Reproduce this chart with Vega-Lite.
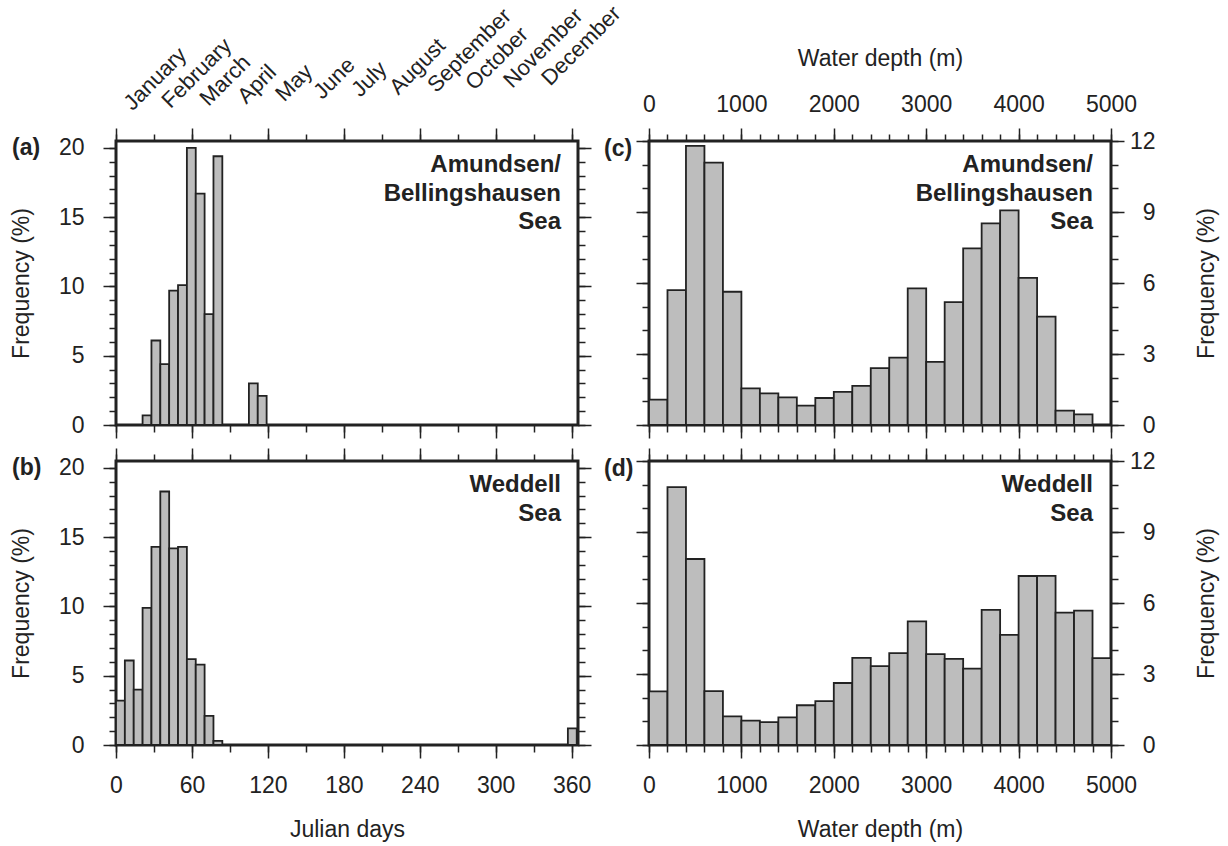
{
"$schema": "https://vega.github.io/schema/vega-lite/v6.json",
"padding": {"left": 8, "top": 0, "right": 5, "bottom": 5},
"background": "white",
"config": {
 "font": "Liberation Sans",
 "view": {"stroke": "#222", "strokeWidth": 3},
 "axis": {"domain": false, "grid": false, "tickColor": "#222", "tickWidth": 1.5, "labelFont": "Liberation Sans", "labelFontSize": 23, "labelColor": "#222", "titleFont": "Liberation Sans", "titleFontSize": 23, "titleFontWeight": "normal", "titleColor": "#222", "labelPadding": 14, "labelFlush": false, "labelOverlap": false, "titlePadding": 20},
 "axisLeft": {"labelPadding": 19, "titlePadding": 25},
 "axisBottom": {"labelPadding": 16, "titlePadding": 21},
 "axisTop": {"labelPadding": 12, "titlePadding": 23},
 "axisRight": {"labelPadding": 31, "labelAlign": "right", "titlePadding": 40, "titleAngle": 270, "titleBaseline": "top"}
},
"datasets": {
 "julA": [
  {"start": 21, "end": 28, "freq": 0.7}, {"start": 28, "end": 35, "freq": 6.1}, {"start": 35, "end": 42, "freq": 4.4},
  {"start": 42, "end": 49, "freq": 9.7}, {"start": 49, "end": 56, "freq": 10.1}, {"start": 56, "end": 63, "freq": 20.0},
  {"start": 63, "end": 70, "freq": 16.7}, {"start": 70, "end": 77, "freq": 8.0}, {"start": 77, "end": 84, "freq": 19.4},
  {"start": 105, "end": 112, "freq": 3.0}, {"start": 112, "end": 119, "freq": 2.1}
 ],
 "julB": [
  {"start": 0, "end": 7, "freq": 3.2}, {"start": 7, "end": 14, "freq": 6.1}, {"start": 14, "end": 21, "freq": 4.0},
  {"start": 21, "end": 28, "freq": 9.9}, {"start": 28, "end": 35, "freq": 14.3}, {"start": 35, "end": 42, "freq": 18.3},
  {"start": 42, "end": 49, "freq": 14.2}, {"start": 49, "end": 56, "freq": 14.3}, {"start": 56, "end": 63, "freq": 6.2},
  {"start": 63, "end": 70, "freq": 5.8}, {"start": 70, "end": 77, "freq": 2.1}, {"start": 77, "end": 84, "freq": 0.3},
  {"start": 357, "end": 364, "freq": 1.2}
 ],
 "depC": [
  {"start": 0, "end": 200, "freq": 1.07}, {"start": 200, "end": 400, "freq": 5.70}, {"start": 400, "end": 600, "freq": 11.79},
  {"start": 600, "end": 800, "freq": 11.09}, {"start": 800, "end": 1000, "freq": 5.63}, {"start": 1000, "end": 1200, "freq": 1.55},
  {"start": 1200, "end": 1400, "freq": 1.34}, {"start": 1400, "end": 1600, "freq": 1.17}, {"start": 1600, "end": 1800, "freq": 0.82},
  {"start": 1800, "end": 2000, "freq": 1.14}, {"start": 2000, "end": 2200, "freq": 1.40}, {"start": 2200, "end": 2400, "freq": 1.65},
  {"start": 2400, "end": 2600, "freq": 2.40}, {"start": 2600, "end": 2800, "freq": 2.85}, {"start": 2800, "end": 3000, "freq": 5.77},
  {"start": 3000, "end": 3200, "freq": 2.67}, {"start": 3200, "end": 3400, "freq": 5.19}, {"start": 3400, "end": 3600, "freq": 7.46},
  {"start": 3600, "end": 3800, "freq": 8.52}, {"start": 3800, "end": 4000, "freq": 9.07}, {"start": 4000, "end": 4200, "freq": 6.22},
  {"start": 4200, "end": 4400, "freq": 4.58}, {"start": 4400, "end": 4600, "freq": 0.61}, {"start": 4600, "end": 4800, "freq": 0.45}
 ],
 "depD": [
  {"start": 0, "end": 200, "freq": 2.27}, {"start": 200, "end": 400, "freq": 10.90}, {"start": 400, "end": 600, "freq": 7.86},
  {"start": 600, "end": 800, "freq": 2.28}, {"start": 800, "end": 1000, "freq": 1.21}, {"start": 1000, "end": 1200, "freq": 1.03},
  {"start": 1200, "end": 1400, "freq": 0.97}, {"start": 1400, "end": 1600, "freq": 1.17}, {"start": 1600, "end": 1800, "freq": 1.68},
  {"start": 1800, "end": 2000, "freq": 1.85}, {"start": 2000, "end": 2200, "freq": 2.62}, {"start": 2200, "end": 2400, "freq": 3.68},
  {"start": 2400, "end": 2600, "freq": 3.33}, {"start": 2600, "end": 2800, "freq": 3.88}, {"start": 2800, "end": 3000, "freq": 5.22},
  {"start": 3000, "end": 3200, "freq": 3.84}, {"start": 3200, "end": 3400, "freq": 3.64}, {"start": 3400, "end": 3600, "freq": 3.23},
  {"start": 3600, "end": 3800, "freq": 5.71}, {"start": 3800, "end": 4000, "freq": 4.65}, {"start": 4000, "end": 4200, "freq": 7.14},
  {"start": 4200, "end": 4400, "freq": 7.15}, {"start": 4400, "end": 4600, "freq": 5.59}, {"start": 4600, "end": 4800, "freq": 5.68},
  {"start": 4800, "end": 5000, "freq": 3.67}
 ]
},
"columns": 2,
"bounds": "flush",
"spacing": {"row": 36, "column": 71},
"concat": [
 {
  "width": 462, "height": 284,
  "data": {"name": "julA"},
  "layer": [
   {"mark": {"type": "bar", "fill": "#bdbdbd", "stroke": "#222", "strokeWidth": 1.8},
    "encoding": {
     "x": {"field": "start", "type": "quantitative", "scale": {"domain": [0, 365], "nice": false}, "axis": {"orient": "bottom", "values": [0, 60, 120, 180, 240, 300, 360], "labels": false, "tickSize": 13, "title": null}},
     "x2": {"field": "end"},
     "y": {"field": "freq", "type": "quantitative", "scale": {"domain": [0, 20.5], "nice": false}, "axis": {"orient": "left", "values": [0, 5, 10, 15, 20], "tickSize": 13, "title": "Frequency (%)"}},
     "y2": {"datum": 0}
    }},
   {"mark": {"type": "point", "opacity": 0},
    "encoding": {
     "x": {"field": "start", "type": "quantitative", "scale": {"domain": [0, 365], "nice": false}, "axis": {"orient": "bottom", "values": [0, 30, 60, 90, 120, 150, 180, 210, 240, 270, 300, 330, 360], "labels": false, "tickSize": 7, "title": null}},
     "y": {"field": "freq", "type": "quantitative", "scale": {"domain": [0, 20.5], "nice": false}, "axis": {"orient": "left", "values": [0, 1, 2, 3, 4, 5, 6, 7, 8, 9, 10, 11, 12, 13, 14, 15, 16, 17, 18, 19, 20], "labels": false, "tickSize": 7, "title": null}}
    }},
   {"mark": {"type": "point", "opacity": 0},
    "encoding": {
     "x": {"field": "start", "type": "quantitative", "scale": {"domain": [0, 365], "nice": false}, "axis": {"orient": "top", "values": [0, 60, 120, 180, 240, 300, 360], "labels": false, "tickSize": 13, "title": null}},
     "y": {"field": "freq", "type": "quantitative", "scale": {"domain": [0, 20.5], "nice": false}, "axis": {"orient": "right", "values": [0, 5, 10, 15, 20], "labels": false, "tickSize": 13, "title": null}}
    }},
   {"mark": {"type": "point", "opacity": 0},
    "encoding": {
     "x": {"field": "start", "type": "quantitative", "scale": {"domain": [0, 365], "nice": false}, "axis": {"orient": "top", "values": [0, 30, 60, 90, 120, 150, 180, 210, 240, 270, 300, 330, 360], "labels": false, "tickSize": 7, "title": null}},
     "y": {"field": "freq", "type": "quantitative", "scale": {"domain": [0, 20.5], "nice": false}, "axis": {"orient": "right", "values": [0, 1, 2, 3, 4, 5, 6, 7, 8, 9, 10, 11, 12, 13, 14, 15, 16, 17, 18, 19, 20], "labels": false, "tickSize": 7, "title": null}}
    }},
   {"mark": {"type": "point", "opacity": 0},
    "encoding": {
     "x": {"field": "start", "type": "quantitative", "scale": {"domain": [0, 365], "nice": false}, "axis": {"orient": "top", "values": [15, 45, 75, 105, 135, 165, 195, 225, 255, 285, 315, 345], "ticks": false, "labelAngle": -45, "labelAlign": "left", "labelBaseline": "middle", "labelFontSize": 22, "labelPadding": {"expr": "35 + (datum.value - 15) * 0.075"}, "labelOffset": -8, "labelExpr": "['January','February','March','April','May','June','July','August','September','October','November','December'][floor(datum.value/30)]", "title": null}},
     "y": {"field": "freq", "type": "quantitative", "scale": {"domain": [0, 20.5], "nice": false}, "axis": null}
    }},
   {"data": {"values": [{"label": "(a)"}]},
    "mark": {"type": "text", "align": "left", "baseline": "middle", "fontSize": 23, "fontWeight": "bold", "color": "#222", "dx": -104, "dy": 0},
    "encoding": {
     "x": {"datum": 0, "type": "quantitative", "scale": {"domain": [0, 365], "nice": false}, "axis": null},
     "y": {"datum": 20, "type": "quantitative", "scale": {"domain": [0, 20.5], "nice": false}, "axis": null},
     "text": {"field": "label"}
    }},
   {"data": {"values": [{"label": "Amundsen/\nBellingshausen\nSea"}]},
    "mark": {"type": "text", "align": "right", "baseline": "alphabetic", "fontSize": 24, "fontWeight": "bold", "color": "#222", "dx": -17, "dy": 31, "lineBreak": "\n", "lineHeight": 28.5},
    "encoding": {
     "x": {"datum": 365, "type": "quantitative", "scale": {"domain": [0, 365], "nice": false}, "axis": null},
     "y": {"datum": 20.5, "type": "quantitative", "scale": {"domain": [0, 20.5], "nice": false}, "axis": null},
     "text": {"field": "label"}
    }}
  ],
  "resolve": {"axis": {"x": "independent", "y": "independent"}}
 },
 {
  "width": 462, "height": 284,
  "data": {"name": "depC"},
  "layer": [
   {"mark": {"type": "bar", "fill": "#bdbdbd", "stroke": "#222", "strokeWidth": 1.8},
    "encoding": {
     "x": {"field": "start", "type": "quantitative", "scale": {"domain": [0, 5000], "nice": false}, "axis": {"orient": "bottom", "values": [0, 1000, 2000, 3000, 4000, 5000], "labels": false, "tickSize": 13, "title": null}},
     "x2": {"field": "end"},
     "y": {"field": "freq", "type": "quantitative", "scale": {"domain": [0, 12], "nice": false}, "axis": {"orient": "left", "values": [0, 3, 6, 9, 12], "labels": false, "tickSize": 13, "title": null}},
     "y2": {"datum": 0}
    }},
   {"mark": {"type": "point", "opacity": 0},
    "encoding": {
     "x": {"field": "start", "type": "quantitative", "scale": {"domain": [0, 5000], "nice": false}, "axis": {"orient": "bottom", "values": [0, 200, 400, 600, 800, 1000, 1200, 1400, 1600, 1800, 2000, 2200, 2400, 2600, 2800, 3000, 3200, 3400, 3600, 3800, 4000, 4200, 4400, 4600, 4800, 5000], "labels": false, "tickSize": 7, "title": null}},
     "y": {"field": "freq", "type": "quantitative", "scale": {"domain": [0, 12], "nice": false}, "axis": {"orient": "left", "values": [0, 1, 2, 3, 4, 5, 6, 7, 8, 9, 10, 11, 12], "labels": false, "tickSize": 7, "title": null}}
    }},
   {"mark": {"type": "point", "opacity": 0},
    "encoding": {
     "x": {"field": "start", "type": "quantitative", "scale": {"domain": [0, 5000], "nice": false}, "axis": {"orient": "top", "values": [0, 1000, 2000, 3000, 4000, 5000], "format": "d", "tickSize": 13, "title": "Water depth (m)"}},
     "y": {"field": "freq", "type": "quantitative", "scale": {"domain": [0, 12], "nice": false}, "axis": {"orient": "right", "values": [0, 3, 6, 9, 12], "tickSize": 13, "title": "Frequency (%)"}}
    }},
   {"mark": {"type": "point", "opacity": 0},
    "encoding": {
     "x": {"field": "start", "type": "quantitative", "scale": {"domain": [0, 5000], "nice": false}, "axis": {"orient": "top", "values": [0, 200, 400, 600, 800, 1000, 1200, 1400, 1600, 1800, 2000, 2200, 2400, 2600, 2800, 3000, 3200, 3400, 3600, 3800, 4000, 4200, 4400, 4600, 4800, 5000], "labels": false, "tickSize": 7, "title": null}},
     "y": {"field": "freq", "type": "quantitative", "scale": {"domain": [0, 12], "nice": false}, "axis": {"orient": "right", "values": [0, 1, 2, 3, 4, 5, 6, 7, 8, 9, 10, 11, 12], "labels": false, "tickSize": 7, "title": null}}
    }},
   {"data": {"values": [{"label": "(c)"}]},
    "mark": {"type": "text", "align": "left", "baseline": "middle", "fontSize": 23, "fontWeight": "bold", "color": "#222", "dx": -45, "dy": 8},
    "encoding": {
     "x": {"datum": 0, "type": "quantitative", "scale": {"domain": [0, 5000], "nice": false}, "axis": null},
     "y": {"datum": 12, "type": "quantitative", "scale": {"domain": [0, 12], "nice": false}, "axis": null},
     "text": {"field": "label"}
    }},
   {"data": {"values": [{"label": "Amundsen/\nBellingshausen\nSea"}]},
    "mark": {"type": "text", "align": "right", "baseline": "alphabetic", "fontSize": 24, "fontWeight": "bold", "color": "#222", "dx": -18, "dy": 31, "lineBreak": "\n", "lineHeight": 28.5},
    "encoding": {
     "x": {"datum": 5000, "type": "quantitative", "scale": {"domain": [0, 5000], "nice": false}, "axis": null},
     "y": {"datum": 12, "type": "quantitative", "scale": {"domain": [0, 12], "nice": false}, "axis": null},
     "text": {"field": "label"}
    }}
  ],
  "resolve": {"axis": {"x": "independent", "y": "independent"}}
 },
 {
  "width": 462, "height": 284,
  "data": {"name": "julB"},
  "layer": [
   {"mark": {"type": "bar", "fill": "#bdbdbd", "stroke": "#222", "strokeWidth": 1.8},
    "encoding": {
     "x": {"field": "start", "type": "quantitative", "scale": {"domain": [0, 365], "nice": false}, "axis": {"orient": "bottom", "values": [0, 60, 120, 180, 240, 300, 360], "tickSize": 13, "title": "Julian days"}},
     "x2": {"field": "end"},
     "y": {"field": "freq", "type": "quantitative", "scale": {"domain": [0, 20.5], "nice": false}, "axis": {"orient": "left", "values": [0, 5, 10, 15, 20], "tickSize": 13, "title": "Frequency (%)"}},
     "y2": {"datum": 0}
    }},
   {"mark": {"type": "point", "opacity": 0},
    "encoding": {
     "x": {"field": "start", "type": "quantitative", "scale": {"domain": [0, 365], "nice": false}, "axis": {"orient": "bottom", "values": [0, 30, 60, 90, 120, 150, 180, 210, 240, 270, 300, 330, 360], "labels": false, "tickSize": 7, "title": null}},
     "y": {"field": "freq", "type": "quantitative", "scale": {"domain": [0, 20.5], "nice": false}, "axis": {"orient": "left", "values": [0, 1, 2, 3, 4, 5, 6, 7, 8, 9, 10, 11, 12, 13, 14, 15, 16, 17, 18, 19, 20], "labels": false, "tickSize": 7, "title": null}}
    }},
   {"mark": {"type": "point", "opacity": 0},
    "encoding": {
     "x": {"field": "start", "type": "quantitative", "scale": {"domain": [0, 365], "nice": false}, "axis": {"orient": "top", "values": [0, 60, 120, 180, 240, 300, 360], "labels": false, "tickSize": 13, "title": null}},
     "y": {"field": "freq", "type": "quantitative", "scale": {"domain": [0, 20.5], "nice": false}, "axis": {"orient": "right", "values": [0, 5, 10, 15, 20], "labels": false, "tickSize": 13, "title": null}}
    }},
   {"mark": {"type": "point", "opacity": 0},
    "encoding": {
     "x": {"field": "start", "type": "quantitative", "scale": {"domain": [0, 365], "nice": false}, "axis": {"orient": "top", "values": [0, 30, 60, 90, 120, 150, 180, 210, 240, 270, 300, 330, 360], "labels": false, "tickSize": 7, "title": null}},
     "y": {"field": "freq", "type": "quantitative", "scale": {"domain": [0, 20.5], "nice": false}, "axis": {"orient": "right", "values": [0, 1, 2, 3, 4, 5, 6, 7, 8, 9, 10, 11, 12, 13, 14, 15, 16, 17, 18, 19, 20], "labels": false, "tickSize": 7, "title": null}}
    }},
   {"data": {"values": [{"label": "(b)"}]},
    "mark": {"type": "text", "align": "left", "baseline": "middle", "fontSize": 23, "fontWeight": "bold", "color": "#222", "dx": -104, "dy": 0},
    "encoding": {
     "x": {"datum": 0, "type": "quantitative", "scale": {"domain": [0, 365], "nice": false}, "axis": null},
     "y": {"datum": 20, "type": "quantitative", "scale": {"domain": [0, 20.5], "nice": false}, "axis": null},
     "text": {"field": "label"}
    }},
   {"data": {"values": [{"label": "Weddell\nSea"}]},
    "mark": {"type": "text", "align": "right", "baseline": "alphabetic", "fontSize": 24, "fontWeight": "bold", "color": "#222", "dx": -17, "dy": 31, "lineBreak": "\n", "lineHeight": 28.5},
    "encoding": {
     "x": {"datum": 365, "type": "quantitative", "scale": {"domain": [0, 365], "nice": false}, "axis": null},
     "y": {"datum": 20.5, "type": "quantitative", "scale": {"domain": [0, 20.5], "nice": false}, "axis": null},
     "text": {"field": "label"}
    }}
  ],
  "resolve": {"axis": {"x": "independent", "y": "independent"}}
 },
 {
  "width": 462, "height": 284,
  "data": {"name": "depD"},
  "layer": [
   {"mark": {"type": "bar", "fill": "#bdbdbd", "stroke": "#222", "strokeWidth": 1.8},
    "encoding": {
     "x": {"field": "start", "type": "quantitative", "scale": {"domain": [0, 5000], "nice": false}, "axis": {"orient": "bottom", "values": [0, 1000, 2000, 3000, 4000, 5000], "format": "d", "tickSize": 13, "title": "Water depth (m)"}},
     "x2": {"field": "end"},
     "y": {"field": "freq", "type": "quantitative", "scale": {"domain": [0, 12], "nice": false}, "axis": {"orient": "left", "values": [0, 3, 6, 9, 12], "labels": false, "tickSize": 13, "title": null}},
     "y2": {"datum": 0}
    }},
   {"mark": {"type": "point", "opacity": 0},
    "encoding": {
     "x": {"field": "start", "type": "quantitative", "scale": {"domain": [0, 5000], "nice": false}, "axis": {"orient": "bottom", "values": [0, 200, 400, 600, 800, 1000, 1200, 1400, 1600, 1800, 2000, 2200, 2400, 2600, 2800, 3000, 3200, 3400, 3600, 3800, 4000, 4200, 4400, 4600, 4800, 5000], "labels": false, "tickSize": 7, "title": null}},
     "y": {"field": "freq", "type": "quantitative", "scale": {"domain": [0, 12], "nice": false}, "axis": {"orient": "left", "values": [0, 1, 2, 3, 4, 5, 6, 7, 8, 9, 10, 11, 12], "labels": false, "tickSize": 7, "title": null}}
    }},
   {"mark": {"type": "point", "opacity": 0},
    "encoding": {
     "x": {"field": "start", "type": "quantitative", "scale": {"domain": [0, 5000], "nice": false}, "axis": {"orient": "top", "values": [0, 1000, 2000, 3000, 4000, 5000], "labels": false, "tickSize": 13, "title": null}},
     "y": {"field": "freq", "type": "quantitative", "scale": {"domain": [0, 12], "nice": false}, "axis": {"orient": "right", "values": [0, 3, 6, 9, 12], "tickSize": 13, "title": "Frequency (%)"}}
    }},
   {"mark": {"type": "point", "opacity": 0},
    "encoding": {
     "x": {"field": "start", "type": "quantitative", "scale": {"domain": [0, 5000], "nice": false}, "axis": {"orient": "top", "values": [0, 200, 400, 600, 800, 1000, 1200, 1400, 1600, 1800, 2000, 2200, 2400, 2600, 2800, 3000, 3200, 3400, 3600, 3800, 4000, 4200, 4400, 4600, 4800, 5000], "labels": false, "tickSize": 7, "title": null}},
     "y": {"field": "freq", "type": "quantitative", "scale": {"domain": [0, 12], "nice": false}, "axis": {"orient": "right", "values": [0, 1, 2, 3, 4, 5, 6, 7, 8, 9, 10, 11, 12], "labels": false, "tickSize": 7, "title": null}}
    }},
   {"data": {"values": [{"label": "(d)"}]},
    "mark": {"type": "text", "align": "left", "baseline": "middle", "fontSize": 23, "fontWeight": "bold", "color": "#222", "dx": -45, "dy": 8},
    "encoding": {
     "x": {"datum": 0, "type": "quantitative", "scale": {"domain": [0, 5000], "nice": false}, "axis": null},
     "y": {"datum": 12, "type": "quantitative", "scale": {"domain": [0, 12], "nice": false}, "axis": null},
     "text": {"field": "label"}
    }},
   {"data": {"values": [{"label": "Weddell\nSea"}]},
    "mark": {"type": "text", "align": "right", "baseline": "alphabetic", "fontSize": 24, "fontWeight": "bold", "color": "#222", "dx": -18, "dy": 31, "lineBreak": "\n", "lineHeight": 28.5},
    "encoding": {
     "x": {"datum": 5000, "type": "quantitative", "scale": {"domain": [0, 5000], "nice": false}, "axis": null},
     "y": {"datum": 12, "type": "quantitative", "scale": {"domain": [0, 12], "nice": false}, "axis": null},
     "text": {"field": "label"}
    }}
  ],
  "resolve": {"axis": {"x": "independent", "y": "independent"}}
 }
]
}
